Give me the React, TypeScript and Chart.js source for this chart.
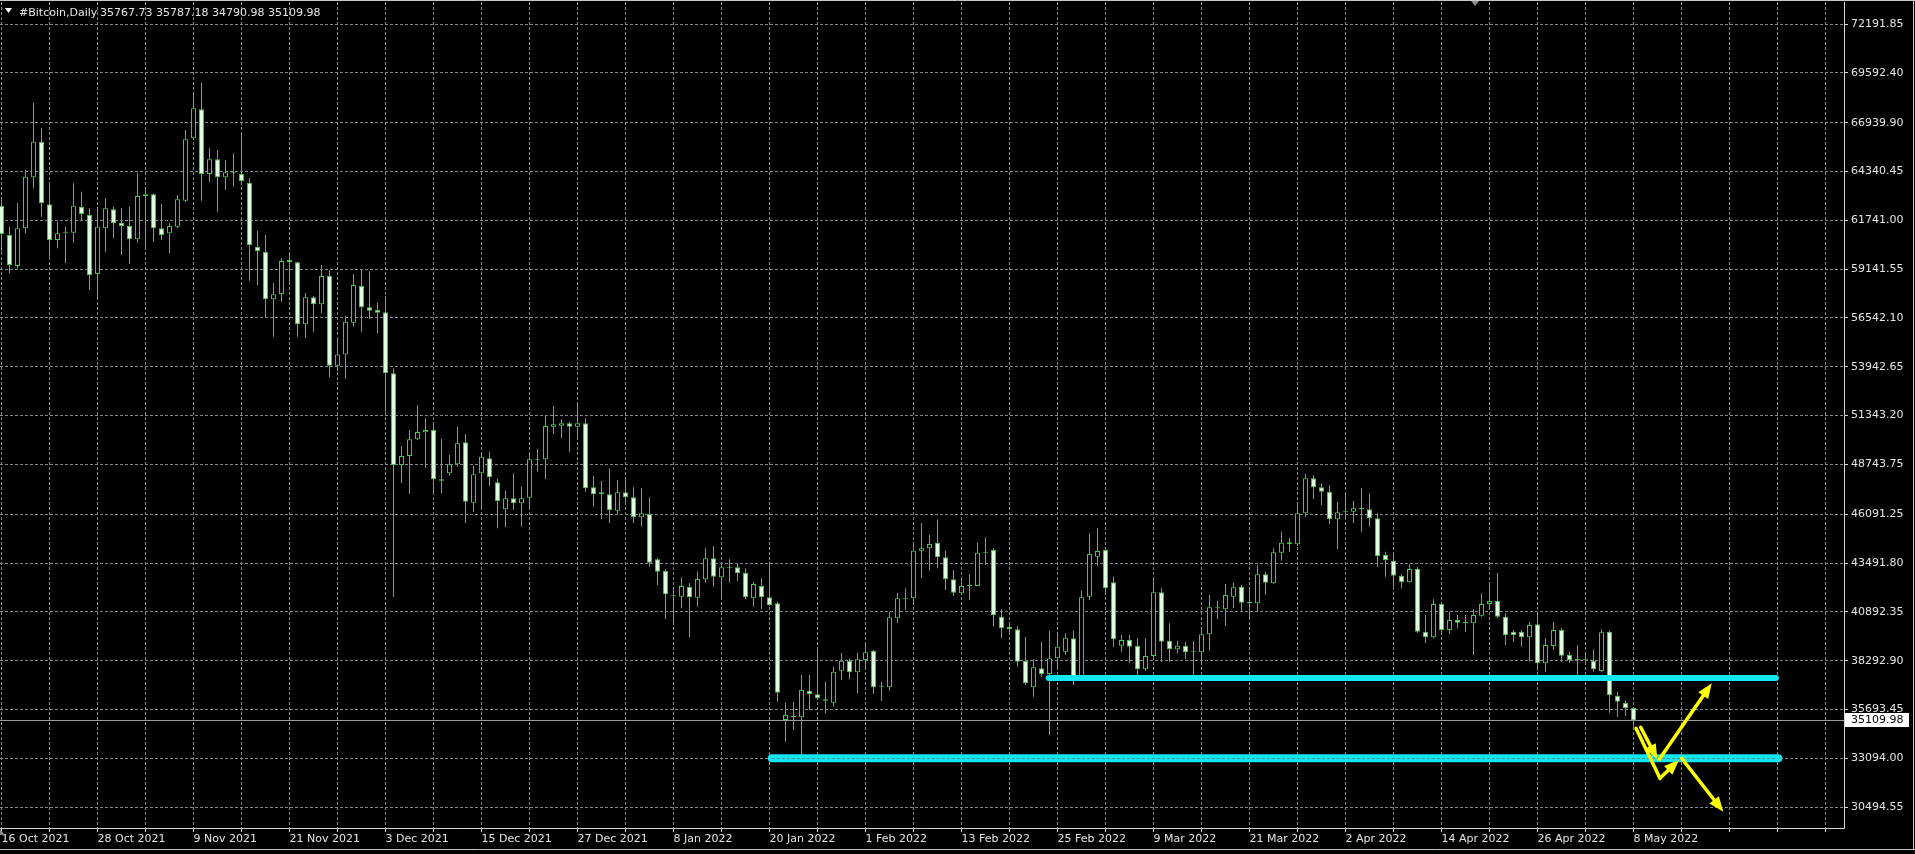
import React, { useEffect, useRef } from "react";
import { Chart, registerables } from "chart.js";

Chart.register(...registerables);

// ---- Daily OHLC, 16 Oct 2021 .. 8 May 2022 (one bar per day) ----
const opens = [
  62523,60961,59310,61316,64032,65931,62594,60695,61086,61086,
  62470,62026,58885,61316,62328,61618,61441,60731,63038,63127,
  61316,61050,61405,62790,66109,67653,64210,64990,64032,64250,
  64210,63748,60340,60074,57535,57819,59630,59506,56204,57641,
  57269,58796,54000,54600,56293,58245,57109,56967,56843,53595,
  48714,49193,50081,50453,50578,47951,48270,48749,49921,46708,
  48270,49069,47791,46353,46939,46673,46974,49016,49016,50755,
  50808,50933,50755,50933,47524,47258,47152,46282,47258,46992,
  45927,46104,43690,43069,41756,41703,42235,41649,42625,43744,
  42732,43265,43265,42980,41614,42271,41667,41347,35135,35313,
  35277,36697,36502,36235,36058,37762,38293,37673,38330,38809,
  36910,36875,40549,41614,41614,44152,44276,44578,43797,42626,
  41880,42271,42271,44046,44188,40638,40105,39963,38277,36875,
  37886,37585,38419,38774,39484,37478,41702,43833,44188,42466,
  39093,39395,39075,37833,38543,41933,39360,38898,39093,38738,
  38738,39697,41135,41028,41703,42235,41383,41348,42892,42412,
  44046,44489,44489,46140,48004,47524,47293,45820,46193,46229,
  46371,46353,45874,43921,43619,42821,42466,43176,39839,39537,
  41312,39928,40460,40318,40283,40691,41312,41472,40638,39839,
  39839,39537,40229,38152,39075,39927,38596,38366,38330,38295,
  37744,39839,36431,36058,35767.73,
];
const highs = [
  62900,61405,62648,64423,67996,66641,63713,61671,61405,63713,
  63269,62381,62470,62914,62470,62381,62470,64281,63535,63180,
  62612,61583,63091,66553,68594,69073,65576,65487,64955,65310,
  66339,63979,61174,60961,58387,59719,60020,59541,57890,57713,
  59364,59080,55400,56647,58884,59150,59026,57358,57713,53861,
  49726,50578,51909,51199,50844,50098,49246,50755,50365,48660,
  49388,49424,47986,47347,48270,47560,49335,49566,51323,51855,
  51146,51021,52033,51199,48128,47880,48536,47915,47915,47524,
  47471,46992,43744,43158,42146,42732,42448,43034,44276,44401,
  43442,43690,43442,43211,42501,42679,43566,41436,36058,36111,
  37531,37531,38863,37176,37975,38721,38419,38721,39218,38863,
  37176,40904,41916,42146,44543,45607,44987,45820,44152,43123,
  42679,42910,44578,44862,44276,41028,40318,40140,39573,38365,
  39306,39874,39839,39750,39892,42022,45075,45341,44276,42768,
  39662,39662,39484,39484,42679,42146,40283,39342,39306,39342,
  40105,41791,41490,42377,42448,42324,42058,43389,43034,44276,
  45163,44809,46673,48235,48181,47737,47649,46761,47205,46814,
  47471,47205,46140,44099,44010,42910,43442,43264,40726,41560,
  41436,40904,40726,40726,41028,41880,42377,42980,40815,39928,
  39928,40371,40815,39484,40371,40016,38774,39129,38774,38898,
  39963,39892,36644,36164,35787.18,
];
const lows = [
  60074,58920,59186,61050,63446,61938,59808,60251,59453,60553,
  61760,58033,57589,60074,60784,59896,59417,60553,60163,60606,
  60695,59985,61316,62736,66020,62789,63801,62204,63358,63535,
  63624,58530,58299,56577,55547,57411,58476,55547,55459,55814,
  56790,53400,53700,53300,56080,55814,56470,55725,51554,41702,
  47738,47170,50045,48536,47205,47205,48146,48625,45607,46229,
  46353,47596,45341,45395,46318,45430,46318,48359,47951,50365,
  50134,49424,50223,47294,46495,45820,45607,46104,46673,45607,
  45430,43300,42324,40495,40318,41081,39537,41170,42448,42235,
  41614,42448,42555,41560,41170,41046,41205,36111,33981,34603,
  33183,35668,36200,35490,35845,37265,37301,36555,37798,36520,
  36164,36697,40318,40993,41259,42679,43087,43211,42058,41738,
  41791,41525,42271,43389,40105,39484,39750,37975,36999,36378,
  37443,34336,37798,38596,36999,37443,41525,43336,41791,39040,
  38774,38152,37443,37762,38472,38241,38241,38685,38366,37531,
  38117,38827,40495,40140,41081,40957,40549,40904,41791,42377,
  43620,44099,44400,45927,46885,46584,45572,44241,45927,45607,
  45164,45430,43264,42767,42235,42146,42448,39750,39217,39484,
  39661,39715,40016,39839,38596,40637,40992,40549,39128,39306,
  39040,38241,37762,37709,38863,38206,38188,37478,38117,37709,
  37709,35526,35313,35348,34790.98,
];
const closes = [
  61015,59364,61316,64068,65931,62648,60695,61050,61100,62523,
  62080,58831,61405,62381,61583,61441,60731,63038,63127,61316,
  60961,61441,62861,66056,67706,64210,64990,64032,64298,64280,
  63837,60429,60109,57535,57801,59577,59506,56204,57641,57269,
  58778,54000,54600,56346,58299,57109,56932,56825,53595,48714,
  49193,50081,50471,50578,47951,47880,48749,49868,46761,48217,
  49158,48057,46797,46939,46673,46939,49016,49000,50791,50880,
  50933,50755,50933,47471,47152,47152,46318,47258,46992,45927,
  46140,43513,43034,41827,41720,42271,41667,42643,43744,42768,
  43265,43247,42945,41667,42377,41667,41259,36590,35401,35295,
  36733,36520,36289,36164,37709,38293,37673,38366,38738,36875,
  36945,40602,41614,41596,44152,44276,44507,43797,42626,41916,
  42271,42306,44046,44099,40726,40016,39963,38241,37088,37940,
  37585,38419,39040,39519,37478,41667,43975,44134,42146,39431,
  39395,39040,37833,38543,41933,39306,38898,39093,38738,38756,
  39697,41135,41081,41791,42200,41383,41365,42892,42448,44063,
  44578,44596,46140,48004,47524,47293,45820,46193,46246,46406,
  46389,45874,43868,43655,42821,42466,43176,39839,39537,41312,
  39928,40460,40318,40300,40726,41312,41472,40638,39661,39661,
  39537,40194,38152,39128,39927,38561,38330,38330,38320,37833,
  39803,36466,36111,35756,35109.98,
];

// ---- axis tick labels ----
const dateLabels = [
  "16 Oct 2021", "28 Oct 2021", "9 Nov 2021", "21 Nov 2021", "3 Dec 2021",
  "15 Dec 2021", "27 Dec 2021", "8 Jan 2022", "20 Jan 2022", "1 Feb 2022",
  "13 Feb 2022", "25 Feb 2022", "9 Mar 2022", "21 Mar 2022", "2 Apr 2022",
  "14 Apr 2022", "26 Apr 2022", "8 May 2022",
];
const priceTicks = [
  72191.85, 69592.40, 66939.90, 64340.45, 61741.00, 59141.55, 56542.10,
  53942.65, 51343.20, 48743.75, 46091.25, 43491.80, 40892.35, 38292.90,
  35693.45, 33094.00, 30494.55,
];
const symbolTitle = "#Bitcoin,Daily";

// ---- drawn objects (bar index, price) ----
const levelStart = [130.9, 96.3];
const levelEnd = [221.8, 222.1];
const levelPrice = [37372, 33094];
const levelWidth = [6, 8];

const arrowFromIdx = [204.31, 204.9, 207.31, 207.23, 210.03];
const arrowFromPrice = [34693, 34746, 32030, 33042, 33095];
const arrowToIdx = [207.31, 206.98, 209.69, 213.78, 215.23];
const arrowToPrice = [32030, 33042, 33005, 37089, 30252];
const arrowHead = [false, true, true, true, true];

// ---- style ----
const GREEN = "#3ccf3c";
const BEAR_FILL = "#dcffdc";
const BULL_FILL = "#000000";
const GRID = "#80888f";
const TEXT = "#e4e4e4";
const AXIS = "#d8d8d8";
const CYAN = "#12e6f2";
const YELLOW = "#ffff00";
const FONT = "DejaVu Sans";

const X_MIN = -0.1875;
const X_MAX = 230.3125;
const Y_MIN = 29384.2;
const Y_MAX = 73368.7;

function drawArrow(ctx: CanvasRenderingContext2D, x1: number, y1: number, x2: number, y2: number, head: boolean) {
  const ang = Math.atan2(y2 - y1, x2 - x1);
  const L = 15;
  const W = 6;
  const cos = Math.cos(ang);
  const sin = Math.sin(ang);
  const ex = head ? x2 - (L - 3) * cos : x2;
  const ey = head ? y2 - (L - 3) * sin : y2;
  ctx.beginPath();
  ctx.moveTo(x1, y1);
  ctx.lineTo(ex, ey);
  ctx.stroke();
  if (head) {
    ctx.beginPath();
    ctx.moveTo(x2, y2);
    ctx.lineTo(x2 - L * cos + W * sin, y2 - L * sin - W * cos);
    ctx.lineTo(x2 - L * cos - W * sin, y2 - L * sin + W * cos);
    ctx.closePath();
    ctx.fill();
  }
}

const overlayPlugin = {
  id: "mtOverlay",
  beforeDraw(chart: any) {
    const c = chart.ctx;
    c.save();
    c.fillStyle = "#000";
    c.fillRect(0, 0, chart.width, chart.height);
    c.restore();
  },
  beforeDatasetsDraw(chart: any) {
    const { ctx, chartArea, scales } = chart;
    const py = Math.round(scales.y.getPixelForValue(closes[closes.length - 1])) + 0.5;
    ctx.save();
    ctx.strokeStyle = "#9a9a9a";
    ctx.lineWidth = 1;
    ctx.beginPath();
    ctx.moveTo(chartArea.left, py);
    ctx.lineTo(chartArea.right, py);
    ctx.stroke();
    ctx.restore();
  },
  afterDatasetsDraw(chart: any) {
    const { ctx, chartArea, scales } = chart;
    const xs = scales.x;
    const ys = scales.y;
    ctx.save();
    ctx.beginPath();
    ctx.rect(chartArea.left, chartArea.top, chartArea.right - chartArea.left, chartArea.bottom - chartArea.top);
    ctx.clip();
    // horizontal levels
    for (let i = 0; i < levelPrice.length; i++) {
      const x1 = xs.getPixelForValue(levelStart[i]);
      const x2 = xs.getPixelForValue(levelEnd[i]);
      const y = ys.getPixelForValue(levelPrice[i]);
      ctx.strokeStyle = CYAN;
      ctx.lineWidth = levelWidth[i];
      ctx.lineCap = "round";
      ctx.beginPath();
      ctx.moveTo(x1, y);
      ctx.lineTo(x2, y);
      ctx.stroke();
      // grid line showing through
      for (const t of priceTicks) {
        const ty = ys.getPixelForValue(t);
        if (Math.abs(ty - y) < levelWidth[i] / 2) {
          ctx.save();
          ctx.strokeStyle = "#4f8f96";
          ctx.lineWidth = 1;
          ctx.lineCap = "butt";
          ctx.setLineDash([3, 2]);
          ctx.beginPath();
          ctx.moveTo(x1, Math.round(ty) + 0.5);
          ctx.lineTo(x2, Math.round(ty) + 0.5);
          ctx.stroke();
          ctx.restore();
        }
      }
    }
    // arrows
    ctx.strokeStyle = YELLOW;
    ctx.fillStyle = YELLOW;
    ctx.lineWidth = 3.5;
    ctx.lineCap = "round";
    ctx.lineJoin = "round";
    for (let i = 0; i < arrowFromIdx.length; i++) {
      drawArrow(
        ctx,
        xs.getPixelForValue(arrowFromIdx[i]),
        ys.getPixelForValue(arrowFromPrice[i]),
        xs.getPixelForValue(arrowToIdx[i]),
        ys.getPixelForValue(arrowToPrice[i]),
        arrowHead[i]
      );
    }
    ctx.restore();
  },
  afterDraw(chart: any) {
    const { ctx, chartArea, scales, width, height } = chart;
    const n = closes.length - 1;
    ctx.save();
    // header
    ctx.fillStyle = "#ffffff";
    ctx.beginPath();
    ctx.moveTo(5, 8);
    ctx.lineTo(12, 8);
    ctx.lineTo(8.5, 13);
    ctx.closePath();
    ctx.fill();
    ctx.font = `11px "${FONT}"`;
    ctx.textBaseline = "middle";
    ctx.textAlign = "left";
    ctx.fillStyle = TEXT;
    ctx.fillText(symbolTitle, 19, 13);
    ctx.fillText(
      [opens[n], highs[n], lows[n], closes[n]].map((v) => v.toFixed(2)).join(" "),
      100,
      13
    );
    // current price box
    const py = Math.round(scales.y.getPixelForValue(closes[n]));
    ctx.fillStyle = "#ffffff";
    ctx.fillRect(chartArea.right + 1, py - 7, 64, 14);
    ctx.fillStyle = "#000000";
    ctx.fillText(closes[n].toFixed(2), chartArea.right + 7, py + 0.5);
    // frame
    ctx.strokeStyle = "#c8c8c8";
    ctx.lineWidth = 1;
    ctx.beginPath();
    ctx.moveTo(0, 0.5);
    ctx.lineTo(width, 0.5);
    ctx.moveTo(width - 1.5, 0);
    ctx.lineTo(width - 1.5, height - 4);
    ctx.moveTo(0, height - 4.5);
    ctx.lineTo(width, height - 4.5);
    ctx.stroke();
    // shift marker and corner marker
    ctx.fillStyle = "#8c8c8c";
    const sx = scales.x.getPixelForValue(184.2);
    ctx.beginPath();
    ctx.moveTo(sx - 4, 1);
    ctx.lineTo(sx + 4, 1);
    ctx.lineTo(sx, 6);
    ctx.closePath();
    ctx.fill();
    ctx.beginPath();
    ctx.moveTo(0, chartArea.bottom + 1);
    ctx.lineTo(5, chartArea.bottom + 7);
    ctx.lineTo(0, chartArea.bottom + 7);
    ctx.closePath();
    ctx.fill();
    ctx.restore();
  },
};

export default function App() {
  const ref = useRef<HTMLCanvasElement>(null);

  useEffect(() => {
    const canvas = ref.current;
    if (!canvas) return;
    const idx = opens.map((_, i) => i);
    const bodies = idx.map((i) => ({ x: i, y: [opens[i], closes[i]] }));
    const wicks = idx.map((i) => ({ x: i, y: [lows[i], highs[i]] }));
    const bodyFill = idx.map((i) => (closes[i] >= opens[i] ? BULL_FILL : BEAR_FILL));

    const chart = new Chart(canvas, {
      type: "bar",
      data: {
        datasets: [
          {
            label: "body",
            data: bodies as any,
            barThickness: 5,
            borderWidth: 1,
            borderColor: GREEN,
            backgroundColor: bodyFill,
            borderSkipped: false,
            minBarLength: 1,
            grouped: false,
            inflateAmount: 0,
            order: 0,
          } as any,
          {
            label: "wick",
            data: wicks as any,
            barThickness: 1,
            borderWidth: 0,
            backgroundColor: GREEN,
            grouped: false,
            inflateAmount: 0,
            order: 1,
          } as any,
        ],
      },
      options: {
        responsive: false,
        maintainAspectRatio: false,
        animation: false,
        events: [],
        layout: { padding: { top: 2, left: 0, right: 0, bottom: 0 } },
        plugins: { legend: { display: false }, tooltip: { enabled: false } },
        scales: {
          x: {
            type: "linear",
            min: X_MIN,
            max: X_MAX,
            offset: false,
            afterBuildTicks: (s: any) => {
              const t: any[] = [];
              for (let v = 0; v <= X_MAX; v += 6) t.push({ value: v });
              s.ticks = t;
            },
            afterFit: (s: any) => {
              s.height = 26;
              s.paddingLeft = 0;
              s.paddingRight = 0;
            },
            ticks: {
              autoSkip: false,
              maxRotation: 0,
              minRotation: 0,
              align: "start",
              color: TEXT,
              padding: 1,
              font: { family: FONT, size: 11 },
              callback: (v: any) => {
                const k = Number(v);
                return k % 12 === 0 && k / 12 < dateLabels.length ? dateLabels[k / 12] : "";
              },
            },
            grid: {
              color: GRID,
              lineWidth: 1,
              offset: false,
              drawTicks: true,
              tickLength: 4,
              tickColor: AXIS,
              tickBorderDash: [],
            },
            border: { display: true, color: AXIS, width: 1, dash: [3, 2] },
          } as any,
          y: {
            type: "linear",
            position: "right",
            min: Y_MIN,
            max: Y_MAX,
            afterBuildTicks: (s: any) => {
              s.ticks = priceTicks.map((v) => ({ value: v }));
            },
            afterFit: (s: any) => {
              s.width = 71;
              s.paddingTop = 0;
              s.paddingBottom = 0;
            },
            ticks: {
              color: TEXT,
              padding: 3,
              font: { family: FONT, size: 11 },
              callback: (v: any) => Number(v).toFixed(2),
            },
            grid: {
              color: GRID,
              lineWidth: 1,
              drawTicks: true,
              tickLength: 4,
              tickColor: AXIS,
              tickBorderDash: [],
            },
            border: { display: true, color: AXIS, width: 1, dash: [3, 2] },
          } as any,
        },
      },
      plugins: [overlayPlugin as any],
    });
    return () => chart.destroy();
  }, []);

  return (
    <div style={{ position: "fixed", left: 0, top: 0, width: 1915, height: 854, background: "#000" }}>
      <canvas ref={ref} width={1915} height={854} style={{ display: "block", width: 1915, height: 854 }} />
    </div>
  );
}
